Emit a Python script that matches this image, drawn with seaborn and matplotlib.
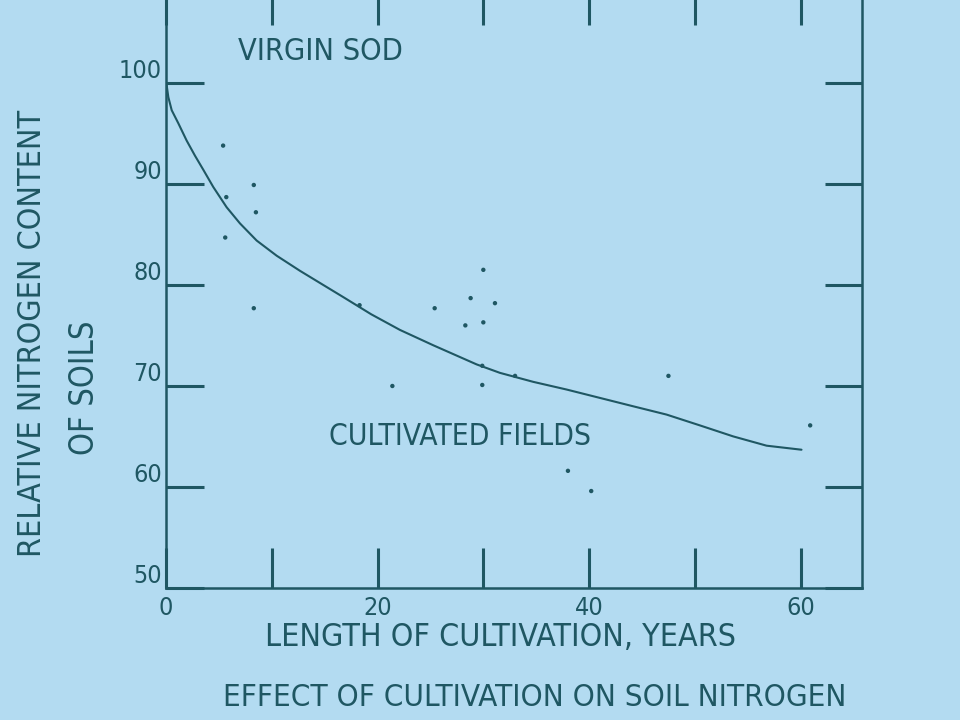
import matplotlib
matplotlib.use("Agg")
import matplotlib.pyplot as plt
import seaborn as sns
import pandas as pd

# fitted curve
curve_years = [0, 0.06, 0.22, 0.54, 1.17, 1.95, 2.74, 3.53, 4.47, 5.73, 6.99, 8.57,
               10.46, 12.67, 14.87, 16.76, 19.4, 22.12, 25.27, 29.36, 31.57, 34.72,
               37.87, 41.02, 44.17, 47.32, 50.47, 53.62, 56.78, 60.08]
curve_nitrogen = [100, 99.8, 98.6, 97.3, 96.0, 94.3, 92.8, 91.4, 89.7, 87.7, 86.1, 84.4,
                  82.9, 81.4, 80.0, 78.8, 77.1, 75.55, 74.03, 72.14, 71.3, 70.41,
                  69.65, 68.82, 67.99, 67.17, 66.1, 65.01, 64.09, 63.69]

# individual field observations
obs_years = [5.4, 8.3, 5.7, 8.5, 5.6, 8.3, 18.3, 25.4, 28.8, 30.0, 31.1, 28.3,
             30.0, 29.9, 33.0, 29.9, 21.4, 47.5, 60.9, 38.0, 40.2]
obs_nitrogen = [93.8, 89.9, 88.7, 87.2, 84.7, 77.7, 78.0, 77.7, 78.7, 81.5, 78.2,
                76.0, 76.3, 72.0, 71.0, 70.1, 70.0, 71.0, 66.1, 61.6, 59.6]

x_ticks = [0, 10, 20, 30, 40, 50, 60]
x_ticklabels = ["0", "", "20", "", "40", "", "60"]
y_ticks = [50, 60, 70, 80, 90, 100]

curve = pd.DataFrame({"years": curve_years, "nitrogen": curve_nitrogen})
obs = pd.DataFrame({"years": obs_years, "nitrogen": obs_nitrogen})

ink = "#1f5763"
bg = "#b3dbf1"

sns.set_style("ticks")
plt.rcParams["font.family"] = ["DejaVu Sans"]
plt.rcParams["font.stretch"] = "condensed"

fig = plt.figure(figsize=(9.6, 7.2), dpi=100, facecolor=bg)
ax = fig.add_axes([166 / 960, 1 - 588 / 720, (862 - 166) / 960, (588 + 15) / 720])
ax.set_facecolor(bg)

sns.lineplot(data=curve, x="years", y="nitrogen", sort=False, estimator=None,
             color=ink, linewidth=1.5, ax=ax)
sns.scatterplot(data=obs, x="years", y="nitrogen", color=ink, s=10,
                edgecolor="none", ax=ax)

ax.set_xlim(0, 65.8)
ax.set_ylim(50, 109.7)
ax.set_xticks(x_ticks)
ax.set_xticklabels(x_ticklabels)
ax.set_yticks(y_ticks)
ax.set_yticklabels([str(v) for v in y_ticks])
for lab in ax.get_yticklabels():
    lab.set_verticalalignment("bottom")

ax.tick_params(axis="both", direction="in", color=ink, width=2.2,
               labelcolor=ink, labelsize=18)
ax.tick_params(axis="y", length=27, pad=3, right=True)
ax.tick_params(axis="x", length=29, pad=6, top=True)
for side in ["left", "right", "bottom", "top"]:
    ax.spines[side].set_color(ink)
    ax.spines[side].set_linewidth(1.8)

ax.set_xlabel("")
ax.set_ylabel("")

fig.text(320 / 960, 1 - 52 / 720, "VIRGIN SOD",
         ha="center", va="center", fontsize=22, color=ink)
fig.text(460 / 960, 1 - 437 / 720, "CULTIVATED FIELDS",
         ha="center", va="center", fontsize=21.5, color=ink)
fig.text(33 / 960, 1 - 333 / 720, "RELATIVE NITROGEN CONTENT", rotation=90,
         ha="center", va="center", fontsize=23, color=ink)
fig.text(85 / 960, 1 - 388 / 720, "OF SOILS", rotation=90,
         ha="center", va="center", fontsize=23.5, color=ink)
fig.text(500 / 960, 1 - 638 / 720, "LENGTH OF CULTIVATION, YEARS",
         ha="center", va="center", fontsize=23, color=ink)
fig.text(535 / 960, 1 - 698 / 720, "EFFECT OF CULTIVATION ON SOIL NITROGEN",
         ha="center", va="center", fontsize=22.5, color=ink)

fig.savefig("out.png", dpi=100, facecolor=bg)
